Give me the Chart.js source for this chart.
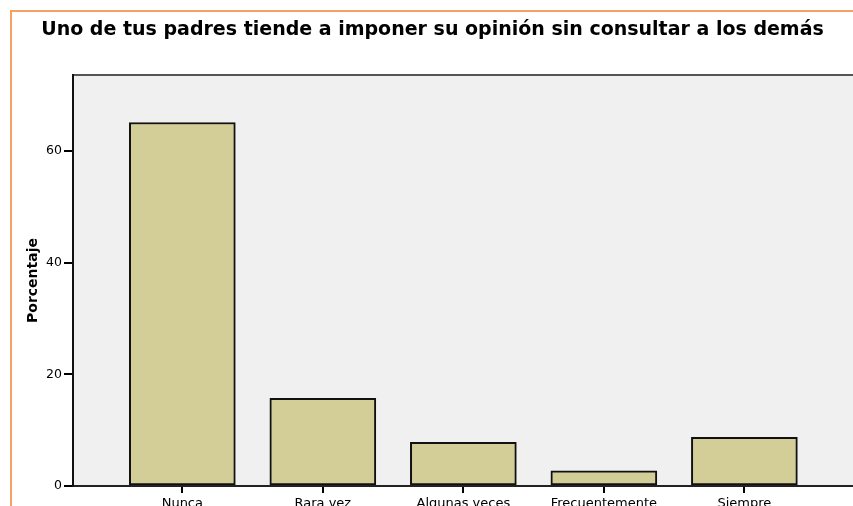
<!DOCTYPE html>
<html>
<head>
<meta charset="utf-8">
<script src="https://cdn.jsdelivr.net/npm/chart.js@4"></script>
<style>
html,body{margin:0;padding:0;background:#fff;overflow:hidden}
#wrap{position:relative;width:853px;height:506px}
#frame{position:absolute;left:10px;top:10px;right:-5px;bottom:-5px;border-left:2px solid #f7a160;border-top:2px solid #f7a160;pointer-events:none}
</style>
</head>
<body>
<div id="wrap"><canvas id="c" width="853" height="506"></canvas><div id="frame"></div></div>
<script>
const chartTitle = 'Uno de tus padres tiende a imponer su opinión sin consultar a los demás';
const yAxisTitle = 'Porcentaje';
const categories = ['Nunca', 'Rara vez', 'Algunas veces', 'Frecuentemente', 'Siempre'];
const percentages = [65.1, 15.7, 7.8, 2.7, 8.7];
const yTicks = [0, 20, 40, 60];

Chart.defaults.font.family = "'DejaVu Sans', sans-serif";
Chart.defaults.color = '#000';

const plotBg = {
  id: 'plotBg',
  beforeDraw(chart) {
    const {ctx, chartArea: a} = chart;
    ctx.save();
    ctx.fillStyle = '#f0f0f0';
    ctx.fillRect(a.left, a.top, a.right - a.left, a.bottom - a.top);
    ctx.strokeStyle = '#555';
    ctx.lineWidth = 2;
    ctx.beginPath();
    ctx.moveTo(a.left, a.top);
    ctx.lineTo(a.right, a.top);
    ctx.stroke();
    ctx.restore();
  }
};

new Chart(document.getElementById('c'), {
  type: 'bar',
  data: {
    datasets: [{
      data: categories.map((c, i) => ({x: i + 1, y: percentages[i]})),
      backgroundColor: '#d3ce97',
      borderColor: '#111',
      borderWidth: 2,
      borderSkipped: false,
      barThickness: 106
    }]
  },
  options: {
    responsive: false,
    animation: false,
    devicePixelRatio: 1,
    layout: {padding: {left: 12, top: 0, right: 0, bottom: 0}},
    plugins: {
      legend: {display: false},
      tooltip: {enabled: false},
      title: {
        display: true,
        text: chartTitle,
        color: '#000',
        font: {size: 19, weight: 'bold'},
        padding: {top: 18.6, bottom: 33.6}
      }
    },
    scales: {
      x: {
        type: 'linear',
        offset: false,
        min: 0.222,
        max: 5.773,
        afterBuildTicks: s => { s.ticks = categories.map((c, i) => ({value: i + 1})); },
        ticks: {
          callback: v => categories[v - 1] ?? '',
          font: {size: 13},
          padding: 3,
          autoSkip: false,
          maxRotation: 0,
          color: '#000'
        },
        grid: {offset: false, drawOnChartArea: false, tickLength: 7, color: '#000', lineWidth: 2},
        border: {color: '#222', width: 2, z: 1},
        afterFit: s => { s.height = 20; s.paddingLeft = 0; s.paddingRight = 0; }
      },
      y: {
        min: 0,
        max: 73.6,
        afterBuildTicks: s => { s.ticks = yTicks.map(v => ({value: v})); },
        ticks: {font: {size: 12.5}, padding: 2, color: '#000'},
        grid: {drawOnChartArea: false, tickLength: 9, color: '#000', lineWidth: 2},
        border: {color: '#111', width: 2, z: 1},
        title: {
          display: true,
          text: yAxisTitle,
          color: '#000',
          font: {size: 14, weight: 'bold'},
          padding: {top: 12.6, bottom: 0}
        },
        afterFit: s => { s.width = 61; s.paddingTop = 0; s.paddingBottom = 0; }
      }
    }
  },
  plugins: [plotBg]
});
</script>
</body>
</html>
